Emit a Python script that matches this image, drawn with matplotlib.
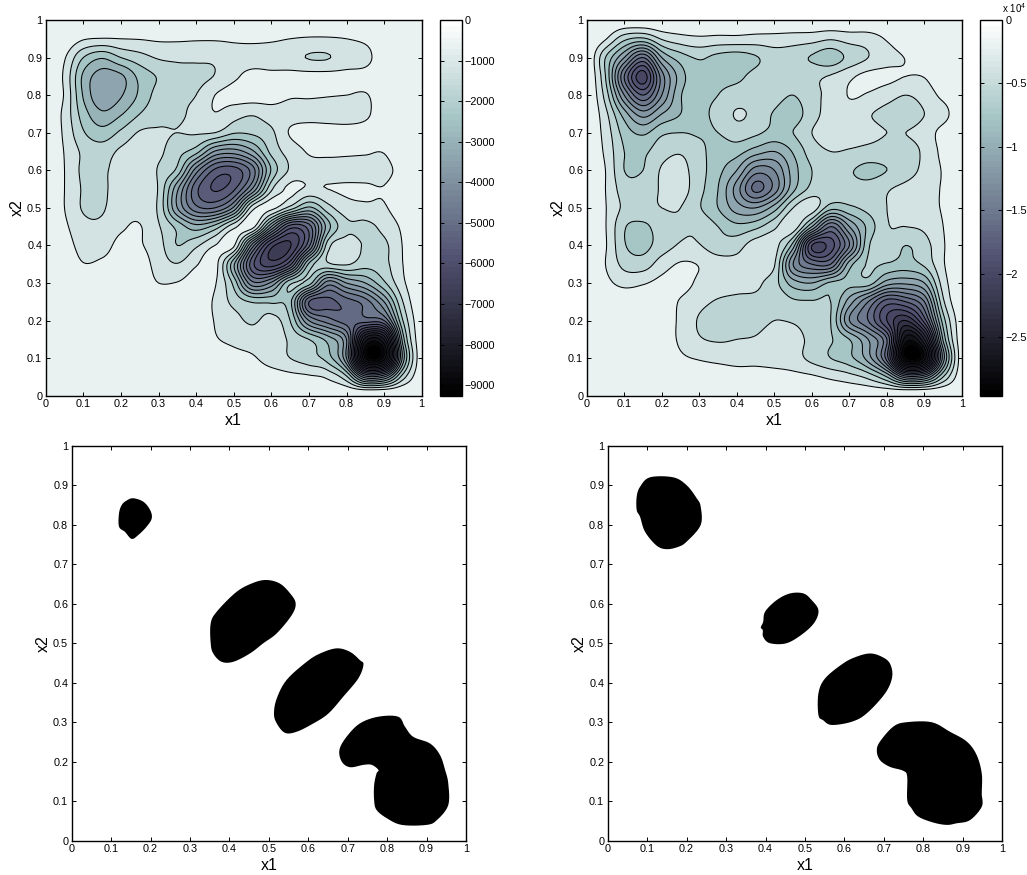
import numpy as np
import matplotlib
matplotlib.use('Agg')
from matplotlib import pyplot as plt
from matplotlib.cm import ScalarMappable
from matplotlib.colors import Normalize

plt.rcParams['font.family'] = ['Liberation Sans', 'DejaVu Sans']
plt.rcParams['mathtext.default'] = 'regular'

# Depth on a 0.05 grid, counted in contour intervals (top row is x2=1)
DEPTH_LEFT = [
    [0, 0, 0, 0, 0, 0, 0, 0, 0, 0, 0, 0, 0, 0, 0, 0, 0, 0, 0, 0, 0],
    [0, .2, .9, 1.05, 1, .95, .85, .85, .9, .9, .85, .8, .85, 1, 1.1, 1.1, 1, .8, .4, .1, 0],
    [0, .9, 3, 3.9, 3, 2.4, 1.9, 1.8, 1.8, 1.8, 1.4, 1.4, 1.5, 1.7, 2.05, 2.05, 1.6, 1.3, .4, .1, 0],
    [0, 1.2, 4.2, 5.5, 5.2, 3.7, 2.9, 2.4, 2.3, 1.95, 1.2, .7, .75, .7, .7, .7, .7, .7, .4, .1, 0],
    [0, 1.1, 4.1, 5.8, 5.1, 3.8, 2.6, 2.2, 2, 1, .6, .5, .6, .9, .9, .95, 1, 1.05, .6, .1, 0],
    [0, 1.3, 3.5, 4.8, 4.1, 3, 2.3, 2.2, 1.7, 1.05, 1.6, 1.9, 1.5, 1.4, 1.4, 1.5, 1.5, 1.2, .4, .1, 0],
    [0, 1.2, 2.9, 3.6, 2.8, 1.9, 1.9, 2, 1.9, 2, 2.9, 2.8, 2.2, .9, .5, .5, .6, .6, .4, .1, 0],
    [0, 1.05, 2.2, 2.5, 1.8, 1.4, 1.8, 2.6, 3.6, 6.1, 6.5, 5.2, 2.7, 1.6, .9, .8, .85, .9, .95, .2, 0],
    [0, 1, 2.2, 2.2, 1.5, 1.2, 2.1, 3.3, 7.5, 10.2, 10.5, 8.5, 3.9, 1.85, 1.4, 1.4, 1.4, 1.4, 1.3, .6, .1],
    [0, 1, 2.1, 2.2, 1.4, 1.1, 2.1, 5.8, 9.7, 11.1, 10.2, 6.9, 2.2, .8, 1.2, 1, .85, .85, .95, .3, .05],
    [0, 1, 2.1, 2.1, 1.4, 1.3, 2.2, 6, 8.7, 9, 6.8, 1.4, .7, 2.4, 4.2, 2.4, 1.4, 1.2, 1.1, .4, 0],
    [0, .8, 1.7, 1.8, 1.15, .95, 1.9, 3.3, 4.6, 3.6, 1.3, .6, 6, 10.5, 9.5, 4.5, 2.3, 2.3, 1.7, .8, 0],
    [0, .5, 1.4, 1.4, .7, .9, 1.6, 3, 2.2, 1, .8, 7.5, 12.6, 13.1, 9.3, 2.5, 1.6, 2.1, 2.2, .95, 0],
    [0, .2, .95, .8, .5, .5, 1.4, 1.95, 1.1, .6, 4.8, 10.7, 12.5, 10.3, 3.8, 2.2, 1.9, 2.6, 2.3, 1, .05],
    [0, .1, .2, .3, .3, .3, 1, .95, .5, .9, 3.3, 7.7, 6.8, 3.2, 3.5, 7.5, 6, 5, 3.2, 1.2, .1],
    [0, .1, .1, .2, .2, .2, .2, .2, .3, 1.15, 2.3, 3.1, 3.2, 3.7, 10, 10.3, 9.5, 8.5, 6, 2, .1],
    [0, 0, .1, .1, .1, .1, .1, .2, .3, 1.05, 1.6, 2.2, 1.6, 3, 7, 8.5, 9.5, 9.5, 9, 3, .2],
    [0, 0, 0, .1, .1, .1, .1, .1, .2, .9, 1.2, 1.4, 1.2, 2.2, 3, 4.4, 7, 16.5, 16, 4.5, .2],
    [0, 0, 0, 0, 0, .1, .1, .1, .2, .4, .7, .9, 1.4, 2, 2.6, 3.5, 7, 18, 17.5, 5.6, .2],
    [0, 0, 0, 0, 0, 0, 0, 0, .1, .2, .3, .4, .5, .7, .85, 1.2, 2.8, 7.5, 7, 2.5, .2],
    [0, 0, 0, 0, 0, 0, 0, 0, 0, 0, 0, 0, 0, 0, 0, 0, -.3, -1, -1, -.5, 0],
]

DEPTH_RIGHT = [
    [0, 0, 0, 0, 0, 0, 0, 0, 0, 0, 0, 0, 0, 0, 0, 0, 0, 0, 0, 0, 0],
    [0, .9, 2.7, 3.2, 1.9, 1.4, 1.2, 1.3, 1.3, 1.4, 1.4, 1.5, 1.6, 1.9, 1.6, 1.5, .9, .3, .1, 0, 0],
    [0, 3, 6, 9, 5, 3.5, 2.9, 3.3, 3.5, 3.1, 2.5, 2.6, 3.1, 3.6, 2.7, 2, 1.4, .95, .3, .05, 0],
    [0, 3, 9, 12.6, 7.5, 4.5, 3.2, 3.2, 3.2, 2.7, 2.4, 2.3, 2.2, 1.9, 1.2, .7, .7, 1, .95, .1, 0],
    [0, 2.4, 7, 10, 7, 4.1, 3.2, 3, 2.6, 2.5, 2.6, 3, 2.3, 1.7, .95, 1.1, 1.6, 2, 1.6, .7, .05],
    [0, 1.7, 4.5, 6.5, 5, 4, 3.2, 2.8, 1.9, 2.3, 3.1, 3.5, 2.4, 1.6, 1.4, 1.9, 2.3, 2.5, 2, 1.4, .1],
    [0, 1.4, 3.4, 4.2, 3.2, 3, 3.1, 3, 2.5, 2.8, 3.3, 3, 2, 1.5, 1.5, 1.7, 2, 2, 1.6, .6, 0],
    [0, 1.2, 3, 3.2, 2.4, 2.1, 2.7, 3.5, 3.6, 4.5, 5, 3.9, 2.5, 2, 2.1, 2.3, 2.4, 2.4, 1.8, .7, .05],
    [0, 1, 3, 3, 1.9, 1.7, 2.6, 3.7, 5, 7.5, 7, 4.5, 3, 2.7, 2.9, 3.3, 3, 2.5, 1.7, .9, .05],
    [0, 1, 2.5, 2.5, 1.9, 1.6, 2.7, 4, 6.5, 9.3, 7.6, 4.3, 2.7, 2.3, 2.7, 2.6, 2.1, 1.7, 1.3, .9, .05],
    [0, .95, 2.2, 2.3, 2, 2, 2.9, 4, 5.5, 6, 4.5, 2, 1.4, 3.6, 3.2, 2.7, 2, 1.6, 1.3, .9, .05],
    [0, .95, 2.9, 3.2, 2.5, 2.1, 2.2, 3, 3.7, 3.3, 2.2, 1.3, 5, 9, 6, 3.7, 2.1, 2, 1.8, 1, .1],
    [0, .9, 2.9, 3.3, 2.5, 1.9, 1.95, 2.6, 2.4, 1.5, 1.6, 4.5, 12, 11.5, 8, 3.2, 2.3, 3, 2.4, 1.1, .1],
    [0, 1, 2.3, 2.5, 1.5, .9, 1.05, 1.5, 1.7, 1.5, 1.9, 7, 9, 9, 4.5, 2.9, 3.1, 3.4, 2.8, 1.1, .1],
    [0, .7, 1.3, 1.1, .7, .6, 1.2, 1.5, 1.7, 1.8, 2.6, 4.5, 5, 3.8, 3.7, 3.5, 5.5, 5.8, 5, 1.5, .2],
    [0, .1, .2, .3, .4, 1.1, 1.7, 2.1, 2.2, 2.2, 2.1, 2.8, 2.9, 3, 5.5, 8, 10.5, 10, 8, 2.2, .2],
    [0, 0, .1, .2, .4, 1.2, 2.1, 2.5, 2.4, 2.3, 2, 2.1, 2.5, 3, 7, 9, 12, 14, 10.5, 3.5, .3],
    [0, 0, 0, .1, .3, 1.2, 1.9, 2.1, 2, 1.9, 1.5, 1.6, 2.3, 2.9, 4, 6, 9, 17.5, 15, 4.8, .3],
    [0, 0, 0, 0, .1, .8, 1.1, 1.3, 1.4, 1.3, 1.4, 1.6, 2.3, 3, 3.7, 5.5, 9.5, 18.8, 17.5, 6.5, .3],
    [0, 0, 0, 0, 0, .1, .2, .3, .5, .6, .6, .7, .85, 1.2, 1.6, 2.3, 4, 7.5, 7, 3, .3],
    [0, 0, 0, 0, 0, 0, 0, 0, 0, 0, 0, 0, 0, 0, 0, 0, -.3, -1, -1, -.5, 0],
]

STEP_LEFT = 487
STEP_RIGHT = 1558
CMIN_LEFT = -9260
CMIN_RIGHT = -29600
# colormap position of the fill between contour k and k+1, judged from the bands in the picture
BAND_INDEX = [0, 4, 11, 19]
BAND_SHADE = [.925, .68, .36, 0]

CBAR_TICKS_LEFT = [0, -1000, -2000, -3000, -4000, -5000, -6000, -7000, -8000, -9000]
CBAR_LABELS_LEFT = ['0', '\u22121000', '\u22122000', '\u22123000', '\u22124000', '\u22125000',
                    '\u22126000', '\u22127000', '\u22128000', '\u22129000']
CBAR_TICKS_RIGHT = [0, -5000, -10000, -15000, -20000, -25000]
CBAR_LABELS_RIGHT = ['0', '\u22120.5', '\u22121', '\u22121.5', '\u22122', '\u22122.5']

TICKS = np.arange(0, 1.01, 0.1)
TICK_LABELS = ['0', '0.1', '0.2', '0.3', '0.4', '0.5', '0.6', '0.7', '0.8', '0.9', '1']

# Thresholded regions, outlines
BLOBS_LEFT = [
    ([.156, .182, .199, .203, .19, .169, .152, .135, .12, .12, .127, .139],
     [.867, .858, .837, .816, .795, .774, .764, .782, .795, .829, .85, .861]),
    ([.4945, .528, .554, .568, .558, .52, .486, .452, .41, .38, .359, .3525, .3525, .368, .418, .461],
     [.66, .651, .626, .601, .571, .525, .5, .474, .453, .453, .474, .5, .55, .58, .63, .653]),
    ([.672, .706, .731, .74, .727, .689, .651, .613, .571, .541, .52, .513, .52, .545, .596, .63],
     [.487, .478, .457, .446, .411, .365, .322, .297, .276, .273, .297, .322, .36, .407, .453, .474]),
    ([.778, .828, .845, .866, .909, .934, .947, .955, .955, .926, .90, .837, .799, .773, .767, .767, .773,
      .778, .761, .74, .706, .685, .679, .697, .731],
     [.314, .314, .289, .263, .246, .217, .179, .145, .09, .052, .04, .04, .057, .078, .103, .141, .17,
      .179, .192, .192, .186, .2, .23, .263, .297]),
]
BLOBS_RIGHT = [
    ([.107, .166, .2, .2255, .2356, .2356, .2, .179, .1495, .124, .0946, .082, .0735, .0735, .082],
     [.92, .92, .9, .867, .846, .799, .757, .744, .738, .747, .782, .82, .837, .871, .896]),
    ([.462, .496, .517, .534, .525, .496, .4535, .411, .394, .393, .388, .394, .399, .428],
     [.626, .626, .609, .584, .554, .525, .5, .5, .516, .533, .54, .554, .58, .609]),
    ([.665, .694, .715, .721, .703, .656, .618, .5676, .546, .534, .534, .551, .597, .631],
     [.474, .466, .449, .415, .373, .322, .301, .293, .305, .318, .373, .411, .449, .466]),
    ([.7576, .821, .867, .91, .935, .948, .948, .948, .948, .918, .884, .859, .825, .787, .77, .759,
      .759, .749, .715, .69, .682, .69, .724],
     [.3, .3, .276, .251, .217, .17, .124, .116, .086, .052, .044, .04, .046, .061, .082, .103,
      .162, .177, .187, .204, .228, .251, .289]),
]

W, H = 1027, 875
cmap = plt.get_cmap('bone', 64)


def add_axes_px(fig, left, top, right, bottom):
    return fig.add_axes([left / W, 1 - bottom / H, (right - left) / W, (bottom - top) / H])


def style_axes(ax):
    ax.set_xlim(0, 1)
    ax.set_ylim(0, 1)
    ax.set_xticks(TICKS, TICK_LABELS)
    ax.set_yticks(TICKS, TICK_LABELS)
    ax.tick_params(direction='in', top=True, right=True, length=3, width=0.7, labelsize=7.8, pad=2.5)
    ax.set_xlabel('x1', fontsize=11.5, labelpad=2.5)
    ax.set_ylabel('x2', fontsize=11.5, labelpad=2)
    for spine in ax.spines.values():
        spine.set_linewidth(1.0)


def resample(z, k, axis=0):
    '''Catmull-Rom resampling along one axis, only to draw smooth curves through the read values.'''
    z = np.moveaxis(z, axis, 0)
    n = z.shape[0]
    pos = np.linspace(0, n - 1, (n - 1) * k + 1)
    i = np.clip(pos.astype(int), 0, n - 2)
    t = (pos - i).reshape((-1,) + (1,) * (z.ndim - 1))
    p0, p1, p2, p3 = z[np.maximum(i - 1, 0)], z[i], z[i + 1], z[np.minimum(i + 2, n - 1)]
    out = 0.5 * (2 * p1 + (p2 - p0) * t + (2 * p0 - 5 * p1 + 4 * p2 - p3) * t ** 2
                 + (3 * p1 - p0 - 3 * p2 + p3) * t ** 3)
    return np.moveaxis(out, 0, axis)


def draw_field(ax, depth, step, cmin):
    z = -np.array(depth, dtype=float) * step
    k = 8
    z_fine = resample(resample(z, k, 0), k, 1)
    x_fine = np.linspace(0, 1, z_fine.shape[1])
    y_fine = np.linspace(1, 0, z_fine.shape[0])
    n = int(np.ceil(-z_fine.min() / step))
    levels = -step * np.arange(1, n + 1)[::-1]
    edges = np.append(levels, 1e9)
    colors = [cmap(np.interp(n - i - 1, BAND_INDEX, BAND_SHADE)) for i in range(n)]
    ax.contourf(x_fine, y_fine, z_fine, edges, colors=colors)
    ax.contour(x_fine, y_fine, z_fine, levels, colors='k', linewidths=0.75, linestyles='solid')


def draw_cbar(fig, cax, cmin, ticks, labels):
    sm = ScalarMappable(Normalize(cmin, 0), cmap)
    cb = fig.colorbar(sm, cax=cax, ticks=ticks)
    cb.ax.set_yticklabels(labels)
    cb.ax.tick_params(direction='in', left=True, right=True, length=3, width=0.7, labelsize=7.8, pad=2.5)
    cb.outline.set_linewidth(1.0)


def closed_curve(values):
    v = np.array(values, dtype=float)
    v = np.r_[v[-1], v, v[0], v[1]]
    return resample(v, 6)[6:-6]


def draw_blobs(ax, blobs):
    for bx, by in blobs:
        ax.fill(closed_curve(bx), closed_curve(by), color='k', lw=0)


fig = plt.figure(figsize=(W / 100, H / 100), dpi=100)

ax = add_axes_px(fig, 45.7, 20, 421.7, 395.7)
draw_field(ax, DEPTH_LEFT, STEP_LEFT, CMIN_LEFT)
style_axes(ax)
cax = add_axes_px(fig, 439.5, 20, 461.5, 395.7)
draw_cbar(fig, cax, CMIN_LEFT, CBAR_TICKS_LEFT, CBAR_LABELS_LEFT)

ax = add_axes_px(fig, 586.7, 20, 962, 395.7)
draw_field(ax, DEPTH_RIGHT, STEP_RIGHT, CMIN_RIGHT)
style_axes(ax)
cax = add_axes_px(fig, 980, 20, 1001.7, 395.7)
draw_cbar(fig, cax, CMIN_RIGHT, CBAR_TICKS_RIGHT, CBAR_LABELS_RIGHT)
cax.text(1.0, 1.012, 'x 10$^{4}$', transform=cax.transAxes, fontsize=7, ha='left', va='bottom')

ax = add_axes_px(fig, 71.7, 445.7, 466, 840.7)
draw_blobs(ax, BLOBS_LEFT)
style_axes(ax)

ax = add_axes_px(fig, 607.7, 445.7, 1002.3, 840.7)
draw_blobs(ax, BLOBS_RIGHT)
style_axes(ax)

fig.savefig('out.png', dpi=100)
